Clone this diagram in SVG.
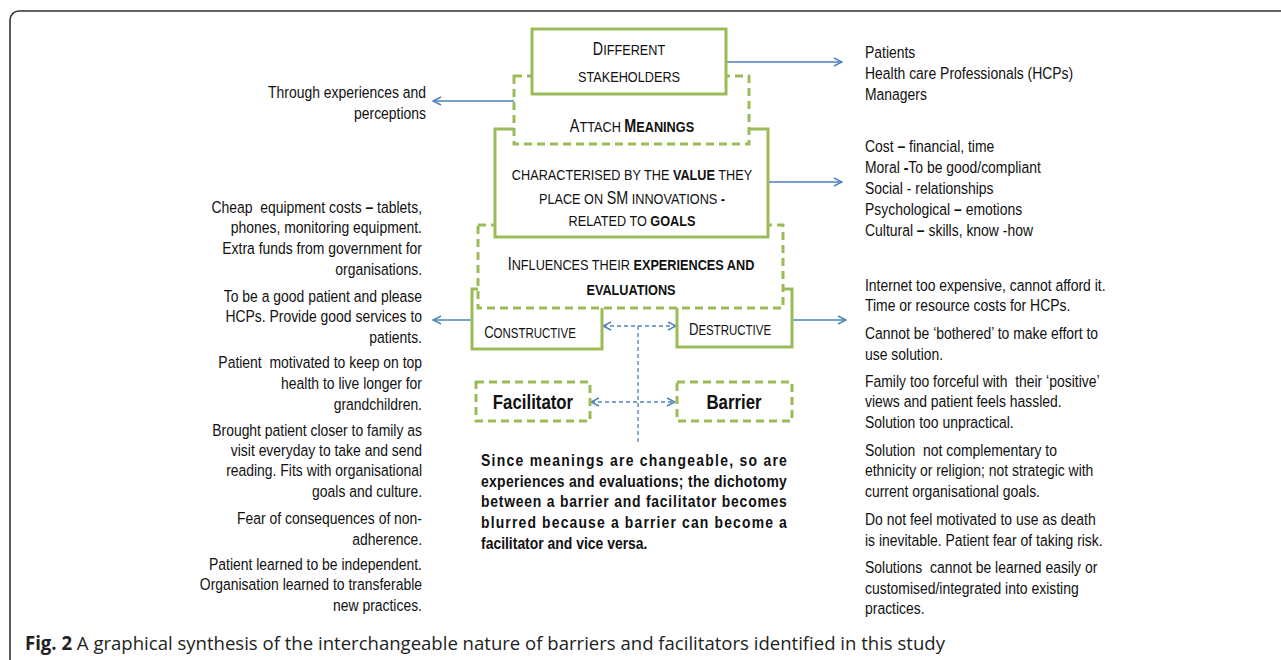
<svg xmlns="http://www.w3.org/2000/svg" width="1281" height="660" viewBox="0 0 1281 660">
<defs>
<marker id="ah" viewBox="0 0 10 10" refX="9" refY="5" markerWidth="10" markerHeight="10" markerUnits="userSpaceOnUse" orient="auto-start-reverse">
<path d="M1,1 L9,5 L1,9" fill="none" stroke="#4f81bd" stroke-width="1.4"/>
</marker>
</defs>
<style>
.bg{fill:#fff}
.frame{fill:none;stroke:#333;stroke-width:1.6}
.solid{fill:#fff;stroke:#9bbb59;stroke-width:3}
.dash{fill:#fff;stroke:#9bbb59;stroke-width:3;stroke-dasharray:8 5}
.t{font-family:"Liberation Sans",Arial,sans-serif;font-size:17px;fill:#111}
.sc{font-family:"Liberation Sans",Arial,sans-serif;font-size:15.5px;fill:#111;text-anchor:middle}
.sc2{font-family:"Liberation Sans",Arial,sans-serif;font-size:14px;fill:#111;text-anchor:middle}
.big{font-size:17.5px}
.big2{font-size:16px}
.r{text-anchor:end}
.b{font-weight:bold}
.fb{font-family:"Liberation Sans",Arial,sans-serif;font-size:20.5px;font-weight:bold;fill:#111;text-anchor:middle}
.p{font-family:"Liberation Sans",Arial,sans-serif;font-size:17px;font-weight:bold;fill:#111}
.cap{font-family:"Open Sans","Noto Sans",sans-serif;font-size:19px;fill:#222}
.ar{fill:none;stroke:#4f81bd;stroke-width:1.5;marker-end:url(#ah)}
.ard{fill:none;stroke:#4f81bd;stroke-width:1.5;stroke-dasharray:4 3;marker-end:url(#ah);marker-start:url(#ah)}
.vd{fill:none;stroke:#4f81bd;stroke-width:1.3;stroke-dasharray:4 3}
</style>
<rect class="bg" width="1281" height="660"/>
<rect class="frame" x="10" y="11" width="1300" height="660" rx="9"/>

<g id="connectors">
<line class="ar" x1="726" y1="62" x2="842" y2="62"/>
<line class="ar" x1="514" y1="101" x2="433" y2="101"/>
<line class="ar" x1="768" y1="182" x2="842" y2="182"/>
<line class="ar" x1="472" y1="320" x2="433" y2="320"/>
<line class="ar" x1="792" y1="320" x2="846" y2="320"/>
<line class="ard" x1="603" y1="326" x2="676" y2="326"/>
<line class="vd" x1="638" y1="326" x2="638" y2="442"/>
<line class="ard" x1="591" y1="402" x2="675" y2="402"/>
</g>

<g id="constructive">
<rect class="solid" x="472" y="289" width="130" height="60"/>
<text class="sc2" transform="translate(530 0) scale(0.82 1)" x="0" y="338"><tspan class="big2">C</tspan>ONSTRUCTIVE</text>
</g>
<g id="destructive">
<rect class="solid" x="677" y="289" width="115" height="58"/>
<text class="sc2" transform="translate(730 0) scale(0.82 1)" x="0" y="335"><tspan class="big2">D</tspan>ESTRUCTIVE</text>
</g>
<g id="influences">
<rect class="dash" x="478" y="225" width="305" height="83"/>
<text class="sc" transform="translate(631 0) scale(0.82 1)" x="0" y="270"><tspan class="big">I</tspan>NFLUENCES THEIR <tspan class="b">EXPERIENCES AND</tspan></text>
<text class="sc b" transform="translate(631 0) scale(0.82 1)" x="0" y="295">EVALUATIONS</text>
</g>
<g id="characterised">
<rect class="solid" x="495" y="129" width="273" height="108"/>
<text class="sc" transform="translate(632 0) scale(0.82 1)" x="0" y="180">CHARACTERISED BY THE <tspan class="b">VALUE</tspan> THEY</text>
<text class="sc" transform="translate(632 0) scale(0.82 1)" x="0" y="204">PLACE ON <tspan class="big">SM</tspan> INNOVATIONS <tspan class="b">-</tspan></text>
<text class="sc" transform="translate(632 0) scale(0.82 1)" x="0" y="226">RELATED TO <tspan class="b">GOALS</tspan></text>
</g>
<g id="attach">
<rect class="dash" x="514" y="76" width="235" height="68"/>
<text class="sc" transform="translate(632 0) scale(0.82 1)" x="0" y="132"><tspan class="big">A</tspan>TTACH <tspan class="b"><tspan class="big">M</tspan>EANINGS</tspan></text>
</g>
<g id="stakeholders">
<rect class="solid" x="532" y="29" width="194" height="65"/>
<text class="sc" transform="translate(629 0) scale(0.82 1)" x="0" y="55"><tspan class="big">D</tspan>IFFERENT</text>
<text class="sc" transform="translate(629 0) scale(0.82 1)" x="0" y="82">STAKEHOLDERS</text>
</g>
<g id="facilitator">
<rect class="dash" x="476" y="382" width="114" height="39"/>
<text class="fb" transform="translate(533 0) scale(0.82 1)" x="0" y="409">Facilitator</text>
</g>
<g id="barrier">
<rect class="dash" x="677" y="382" width="115" height="39"/>
<text class="fb" transform="translate(734 0) scale(0.82 1)" x="0" y="409">Barrier</text>
</g>

<g id="paragraph" transform="translate(481 0) scale(0.82 1)">
<text class="p" x="0" y="466" textLength="373" lengthAdjust="spacing">Since meanings are changeable, so are</text>
<text class="p" x="0" y="487" textLength="373" lengthAdjust="spacing">experiences and evaluations; the dichotomy</text>
<text class="p" x="0" y="507" textLength="373" lengthAdjust="spacing">between a barrier and facilitator becomes</text>
<text class="p" x="0" y="528" textLength="373" lengthAdjust="spacing">blurred because a barrier can become a</text>
<text class="p" x="0" y="549">facilitator and vice versa.</text>
</g>

<g id="left-text" transform="translate(422 0) scale(0.82 1)">
<text class="t r" x="4.9" y="98">Through experiences and</text>
<text class="t r" x="4.9" y="119">perceptions</text>
<text class="t r" x="0" y="213">Cheap&#160; equipment costs <tspan class="b">–</tspan> tablets,</text>
<text class="t r" x="0" y="233">phones, monitoring equipment.</text>
<text class="t r" x="0" y="254">Extra funds from government for</text>
<text class="t r" x="0" y="275">organisations.</text>
<text class="t r" x="0" y="302">To be a good patient and please</text>
<text class="t r" x="0" y="322">HCPs. Provide good services to</text>
<text class="t r" x="0" y="343">patients.</text>
<text class="t r" x="0" y="368">Patient&#160; motivated to keep on top</text>
<text class="t r" x="0" y="389">health to live longer for</text>
<text class="t r" x="0" y="410">grandchildren.</text>
<text class="t r" x="0" y="436">Brought patient closer to family as</text>
<text class="t r" x="0" y="456">visit everyday to take and send</text>
<text class="t r" x="0" y="476">reading. Fits with organisational</text>
<text class="t r" x="0" y="497">goals and culture.</text>
<text class="t r" x="0" y="524">Fear of consequences of non-</text>
<text class="t r" x="0" y="545">adherence.</text>
<text class="t r" x="0" y="570">Patient learned to be independent.</text>
<text class="t r" x="0" y="590">Organisation learned to transferable</text>
<text class="t r" x="0" y="611">new practices.</text>
</g>

<g id="right-text" transform="translate(865 0) scale(0.82 1)">
<text class="t" x="0" y="58">Patients</text>
<text class="t" x="0" y="79">Health care Professionals (HCPs)</text>
<text class="t" x="0" y="100">Managers</text>
<text class="t" x="0" y="152">Cost <tspan class="b">–</tspan> financial, time</text>
<text class="t" x="0" y="173">Moral <tspan class="b">-</tspan>To be good/compliant</text>
<text class="t" x="0" y="194">Social - relationships</text>
<text class="t" x="0" y="215">Psychological <tspan class="b">–</tspan> emotions</text>
<text class="t" x="0" y="236">Cultural <tspan class="b">–</tspan> skills, know -how</text>
<text class="t" x="0" y="291">Internet too expensive, cannot afford it.</text>
<text class="t" x="0" y="311">Time or resource costs for HCPs.</text>
<text class="t" x="0" y="339">Cannot be ‘bothered’ to make effort to</text>
<text class="t" x="0" y="360">use solution.</text>
<text class="t" x="0" y="387">Family too forceful with&#160; their ‘positive’</text>
<text class="t" x="0" y="407">views and patient feels hassled.</text>
<text class="t" x="0" y="428">Solution too unpractical.</text>
<text class="t" x="0" y="456">Solution&#160; not complementary to</text>
<text class="t" x="0" y="476">ethnicity or religion; not strategic with</text>
<text class="t" x="0" y="497">current organisational goals.</text>
<text class="t" x="0" y="525">Do not feel motivated to use as death</text>
<text class="t" x="0" y="546">is inevitable. Patient fear of taking risk.</text>
<text class="t" x="0" y="573">Solutions&#160; cannot be learned easily or</text>
<text class="t" x="0" y="594">customised/integrated into existing</text>
<text class="t" x="0" y="614">practices.</text>
</g>

<text class="cap" x="25" y="650" textLength="920" lengthAdjust="spacingAndGlyphs"><tspan font-weight="bold">Fig. 2</tspan> A graphical synthesis of the interchangeable nature of barriers and facilitators identified in this study</text>
</svg>
